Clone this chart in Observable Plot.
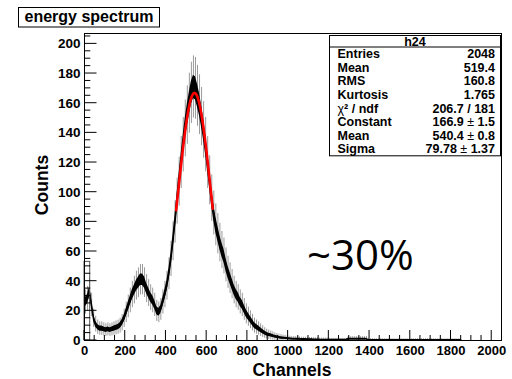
<!DOCTYPE html>
<html>
<head>
<meta charset="utf-8">
<script src="https://cdn.jsdelivr.net/npm/d3@7"></script>
<script src="https://cdn.jsdelivr.net/npm/@observablehq/plot@0.6"></script>
<style>
  html, body { margin: 0; padding: 0; background: #fff; }
  #chart svg { display: block; }
</style>
</head>
<body>
<div id="chart"></div>
<script>
// Energy spectrum: counts per channel, averaged in 10-channel bins (channels 0–2050)
const binWidth = 10;
const counts = [
  26, 28, 33, 24, 15, 11, 9, 8, 8, 7.5,
  7, 7.5, 7, 7.5, 8, 8.5, 9, 10, 12, 15,
  19, 23, 27, 31, 34, 37, 39, 41, 41, 39,
  35, 32, 29, 27, 24, 20, 19, 21, 26, 31,
  37, 45, 55, 67, 80, 94, 107, 120, 132, 143,
  152, 160, 167, 171, 170, 165, 159, 151, 142, 132,
  120, 108, 96, 86, 78, 72, 66, 61, 57, 51,
  46, 42, 38, 34, 31, 29, 26, 24, 21, 18,
  16, 14, 12, 10, 9, 8, 7, 6, 5, 4.3,
  3.8, 3.4, 3, 2.6, 2.3, 2, 1.8, 1.6, 1.5, 1.3,
  1.2, 1.1, 1.0, 1.0, 0.9, 0.9, 0.8, 0.8, 0.8, 0.7,
  0.7, 0.7, 0.6, 0.6, 0.6, 0.5, 0.5, 0.5, 0.5, 0.5,
  0.4, 0.4, 0.4, 0.4, 0.4, 0.4, 0.4, 0.4, 0.4,
  1.0, 1.0, 1.0, 1.0, 1.0, 1.0, 1.0, 1.0, 1.0, 1.0,
  0.3, 0.3, 0.3, 0.3, 0.3, 0.3, 0.3, 0.3, 0.3, 0.3,
  0.3, 0.3, 0.3, 0.3, 0.3, 0.3, 0.3, 0.3, 0.3, 0.3,
  0.3, 0.3, 0.3, 0.3, 0.3, 0.3, 0.3, 0.3, 0.3, 0.3,
  0.3, 0.3, 0.3, 0.3, 0.3, 0.3, 0.3, 0.3, 0.3, 0.3,
  0.3, 0.3, 0.3, 0.3, 0.3, 0.3,
  0, 0, 0, 0, 0, 0, 0, 0, 0, 0,
  0, 0, 0, 0, 0, 0, 0, 0, 0, 0
];

// first channels, drawn as an outlined bin
const lowChannelBin = [{from: 0, to: 28, count: 53}];

// Gaussian fit result
const fitConstant = 166.9, fitConstantErr = 1.5;
const fitMean = 540.4, fitMeanErr = 0.8;
const fitSigma = 79.78, fitSigmaErr = 1.37;
const fitRange = [450, 630];

// statistics box
const statsName = "h24";
const statsLabels = ["Entries", "Mean", "RMS", "Kurtosis", "χ² / ndf", "Constant", "Mean", "Sigma"];
const statsValues = [
  "2048", "519.4", "160.8", "1.765", "206.7 / 181",
  `${fitConstant} ± ${fitConstantErr}`,
  `${fitMean} ± ${fitMeanErr}`,
  `${fitSigma} ± ${fitSigmaErr}`
];

const xTicks = d3.range(0, 2001, 200);
const yTicks = d3.range(0, 201, 20);
const xMinor = d3.range(0, 2049, 50);
const yMinor = d3.range(0, 206, 5);

const titleText = "energy spectrum";
const xLabel = "Channels";
const yLabel = "Counts";
const noteText = "~30%";

// derived tables: statistical spread of each bin as a dark core and a grey fringe
const bins = counts.map((c, i) => {
  const s = Math.sqrt(c);
  return {
    ch: i * binWidth + binWidth / 2,
    c,
    lo: Math.max(0, c - 0.6 * s),
    hi: c + 0.6 * s,
    elo: Math.max(0, c - 1.6 * s),
    ehi: c + 1.6 * s
  };
});
const fitCurve = d3.range(fitRange[0], fitRange[1] + 0.1, 2).map(ch => ({
  ch,
  y: fitConstant * Math.exp(-0.5 * ((ch - fitMean) / fitSigma) ** 2)
}));

const font = "'Liberation Sans', Arial, Helvetica, sans-serif";

const chart = Plot.plot({
  width: 512,
  height: 379,
  marginTop: 33,
  marginRight: 11,
  marginBottom: 39,
  marginLeft: 84,
  style: {fontFamily: font, background: "#fff", overflow: "visible"},
  x: {domain: [0, 2048], label: null},
  y: {domain: [0, 207], label: null},
  marks: [
    Plot.ruleX(bins, {x: "ch", y1: "elo", y2: "ehi", stroke: "#9a9a9a", strokeWidth: 1}),
    Plot.areaY(bins, {x: "ch", y1: "lo", y2: "hi", fill: "#000"}),
    Plot.line(bins, {x: "ch", y: "c", stroke: "#000", strokeWidth: 1.2}),
    Plot.rect(lowChannelBin, {x1: "from", x2: "to", y1: 0, y2: "count", fill: "none", stroke: "#555", strokeWidth: 1}),
    Plot.line(fitCurve, {x: "ch", y: "y", stroke: "#ff0000", strokeWidth: 2.6}),
    Plot.axisX({ticks: xTicks, tickFormat: d3.format("d"), tickSize: 0, tickPadding: 5, fontSize: 13, fontWeight: "bold", fill: "#000", label: null}),
    Plot.axisY({ticks: yTicks, tickFormat: d3.format("d"), tickSize: 0, tickPadding: 4, fontSize: 13.5, fontWeight: "bold", fill: "#000", label: null}),
    Plot.frame({stroke: "#000", strokeWidth: 1})
  ]
});

document.getElementById("chart").appendChild(chart);

// inward-pointing ticks, placed through the plot's scales
const svg = d3.select(chart);
const sx = chart.scale("x"), sy = chart.scale("y");
const y0 = sy.apply(0), xLeft = sx.apply(0);
const ticks = svg.append("g").attr("stroke", "#000").attr("stroke-width", 1);
xMinor.forEach(t => {
  const X = sx.apply(t), len = t % 200 === 0 ? 10 : 5;
  ticks.append("line").attr("x1", X).attr("x2", X).attr("y1", y0).attr("y2", y0 - len);
});
yMinor.forEach(t => {
  const Y = sy.apply(t), len = t % 20 === 0 ? 12.5 : 6.3;
  ticks.append("line").attr("x1", xLeft).attr("x2", xLeft + len).attr("y1", Y).attr("y2", Y);
});

// axis titles
svg.append("text").text(xLabel)
  .attr("x", 292).attr("y", 375.5).attr("text-anchor", "middle")
  .attr("font-family", font).attr("font-weight", "bold").attr("font-size", 17.5);
svg.append("text").text(yLabel)
  .attr("transform", "translate(48,185) rotate(-90)").attr("text-anchor", "middle")
  .attr("font-family", font).attr("font-weight", "bold").attr("font-size", 17.5);

// histogram title box
const tb = svg.append("g");
tb.append("rect").attr("x", 18.5).attr("y", 7.5).attr("width", 141).attr("height", 19.5)
  .attr("fill", "#fff").attr("stroke", "#000");
tb.append("text").text(titleText).attr("x", 89).attr("y", 21.5).attr("text-anchor", "middle")
  .attr("font-family", font).attr("font-weight", "bold").attr("font-size", 16);

// statistics box
const sbX = 329.5, sbW = 171, sbTop = 35.5, headH = 11.5, rowH = 13.6;
const sb = svg.append("g").attr("font-family", font);
sb.append("rect").attr("x", sbX).attr("y", sbTop).attr("width", sbW)
  .attr("height", headH + rowH * statsLabels.length).attr("fill", "#fff").attr("stroke", "#000");
sb.append("line").attr("x1", sbX).attr("x2", sbX + sbW)
  .attr("y1", sbTop + headH).attr("y2", sbTop + headH).attr("stroke", "#000");
sb.append("text").text(statsName).attr("x", sbX + sbW / 2).attr("y", sbTop + headH / 2 + 4.3)
  .attr("text-anchor", "middle").attr("font-weight", "bold").attr("font-size", 12.5);

function richText(sel, str) {
  // symbols drawn in a regular weight
  const parts = str.split(/(±|χ)/);
  parts.forEach(p => {
    if (!p) return;
    const t = sel.append("tspan").text(p);
    if (p === "±" || p === "χ") t.attr("font-weight", "normal");
  });
}
statsLabels.forEach((lab, i) => {
  const yc = sbTop + headH + rowH * (i + 0.5) + 4.4;
  richText(sb.append("text").attr("x", sbX + 8).attr("y", yc).attr("text-anchor", "start")
    .attr("font-weight", "bold").attr("font-size", 12.5), lab);
  richText(sb.append("text").attr("x", sbX + sbW - 5.5).attr("y", yc)
    .attr("text-anchor", "end").attr("font-weight", "bold").attr("font-size", 12.5), statsValues[i]);
});

// annotation
svg.append("text").text(noteText).attr("x", 307).attr("y", 270).attr("text-anchor", "start")
  .attr("font-family", "'Open Sans', 'Noto Sans', sans-serif").attr("font-size", 42).attr("fill", "#000");
</script>
</body>
</html>
